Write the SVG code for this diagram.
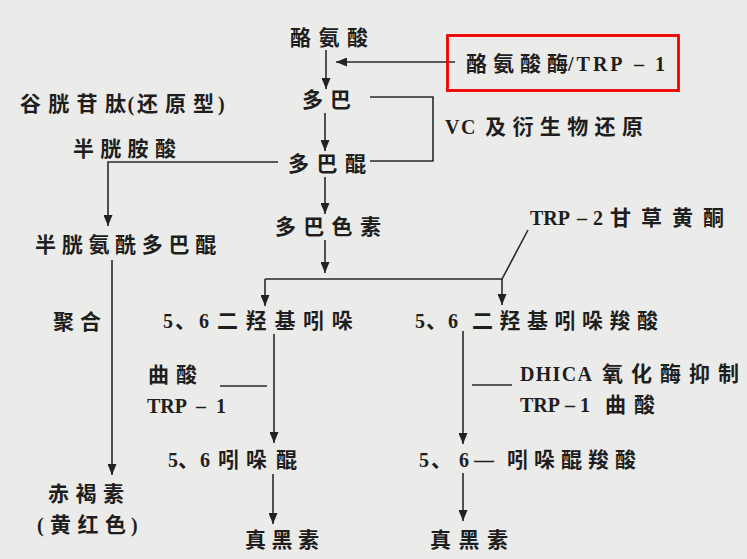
<svg xmlns="http://www.w3.org/2000/svg" width="747" height="559" viewBox="0 0 747 559">
  <style>
    text { font-family: "Liberation Serif", "Noto Sans CJK SC", serif; font-weight: bold; fill: #1e1e1e; }
    .c { font-family: "Noto Sans CJK SC", "Liberation Serif", sans-serif; font-size: 21px; }
    .l { font-family: "Liberation Serif", "Noto Sans CJK SC", serif; font-size: 20px; }
    .ln { fill: none; stroke: #2a2a2a; stroke-width: 1.6; }
    .ar { fill: none; stroke: #2a2a2a; stroke-width: 1.6; marker-end: url(#head); }
  </style>
  <defs>
    <marker id="head" markerUnits="userSpaceOnUse" markerWidth="11" markerHeight="9" refX="11" refY="4.5" orient="auto">
      <path d="M0,0 L11,4.5 L0,9 Z" fill="#222"/>
    </marker>
  </defs>

  <rect width="747" height="559" fill="#ebebe9"/>

  <!-- connectors -->
  <g id="connectors">
    <path class="ar" d="M326,50 V89"/>
    <path class="ar" d="M455,62 H336"/>
    <path class="ar" d="M325,113 V151"/>
    <path class="ln" d="M370,97 H433 V161 H370"/>
    <path class="ar" d="M278,162 H108 V226"/>
    <path class="ar" d="M325,177 V214"/>
    <path class="ar" d="M325,240 V273"/>
    <path class="ln" d="M265,279 H502 L528,230"/>
    <path class="ar" d="M265,279 V306"/>
    <path class="ar" d="M502,279 V305"/>
    <path class="ar" d="M112,260 V475"/>
    <path class="ar" d="M274,334 V443"/>
    <path class="ar" d="M463,331 V444"/>
    <path class="ln" d="M220,386 H267"/>
    <path class="ln" d="M472,385 H512"/>
    <path class="ar" d="M273,474 V524"/>
    <path class="ar" d="M463,473 V521"/>
  </g>

  <!-- nodes -->
  <g id="tyrosine"><text class="c" x="290 318.5 347" y="44.5">酪氨酸</text></g>
  <g id="tyrosinase">
    <rect x="447.5" y="35.5" width="231" height="55" fill="none" stroke="#f00000" stroke-width="2.8"/>
    <text y="70.5"><tspan class="c" x="466 493 520 547">酪氨酸酶</tspan><tspan class="l" x="568" font-size="22" letter-spacing="3">/TRP</tspan><tspan class="l" x="634" font-size="22">–</tspan><tspan class="l" x="655" font-size="22">1</tspan></text>
  </g>
  <g id="dopa"><text class="c" x="302 330" y="107">多巴</text></g>
  <g id="vc-reduction"><text y="133.5"><tspan class="l" x="445" letter-spacing="1.5">VC</tspan><tspan class="c" x="485 512.4 539.8 567.2 594.6 622">及衍生物还原</tspan></text></g>
  <g id="glutathione"><text y="110.5"><tspan class="c" x="20 48.3 76.6 104.9">谷胱苷肽</tspan><tspan class="l" x="127.5" font-size="21">(</tspan><tspan class="c" x="137 165 193">还原型</tspan><tspan class="l" x="218" font-size="21">)</tspan></text></g>
  <g id="cysteine"><text class="c" x="73 100.3 127.6 154.9" y="155.5">半胱胺酸</text></g>
  <g id="dopaquinone"><text class="c" x="288 316.5 345" y="171">多巴醌</text></g>
  <g id="dopachrome"><text class="c" x="275 303.3 331.6 359.9" y="233.5">多巴色素</text></g>
  <g id="cysteinyldopaquinone"><text class="c" x="35 61.7 88.4 115.1 141.8 168.5 195.2" y="251.5">半胱氨酰多巴醌</text></g>
  <g id="trp2"><text y="225"><tspan class="l" x="530" font-size="21">TRP</tspan><tspan class="l" x="577">–</tspan><tspan class="l" x="593">2</tspan><tspan class="c" x="610 641 672 703">甘草黄酮</tspan></text></g>
  <g id="polymerization"><text class="c" x="53 80" y="328.5">聚合</text></g>
  <g id="dhi"><text y="328"><tspan class="l" x="163">5</tspan><tspan class="c" x="175">、</tspan><tspan class="l" x="199">6</tspan><tspan class="c" x="217 245.7 274.4 303.1 331.8">二羟基吲哚</tspan></text></g>
  <g id="dhica"><text y="328"><tspan class="l" x="415">5</tspan><tspan class="c" x="426">、</tspan><tspan class="l" x="448">6</tspan><tspan class="c" x="472 499.5 527 554.5 582 609.5 637">二羟基吲哚羧酸</tspan></text></g>
  <g id="kojic-trp1">
    <text class="c" x="148 176" y="381.5">曲酸</text>
    <text y="413"><tspan class="l" x="147" font-size="19">TRP</tspan><tspan class="l" x="196" font-size="19">–</tspan><tspan class="l" x="216" font-size="19">1</tspan></text>
  </g>
  <g id="dhica-oxidase">
    <text y="380.5"><tspan class="l" x="520" letter-spacing="1.3">DHICA</tspan><tspan class="c" x="602 631 660 689 718">氧化酶抑制</tspan></text>
    <text y="412"><tspan class="l" x="520" font-size="19">TRP</tspan><tspan class="l" x="565" font-size="19">–</tspan><tspan class="l" x="580" font-size="19">1</tspan><tspan class="c" x="605 634">曲酸</tspan></text>
  </g>
  <g id="indolequinone"><text y="467"><tspan class="l" x="168">5</tspan><tspan class="c" x="178">、</tspan><tspan class="l" x="200">6</tspan><tspan class="c" x="218 246 276">吲哚醌</tspan></text></g>
  <g id="indolequinone-carboxylic"><text y="467"><tspan class="l" x="419">5</tspan><tspan class="c" x="431">、</tspan><tspan class="l" x="459">6</tspan><tspan class="l" x="474" font-size="28">—</tspan><tspan class="c" x="507 534 561 588 615">吲哚醌羧酸</tspan></text></g>
  <g id="pheomelanin">
    <text class="c" x="48 75.5 103" y="500.5">赤褐素</text>
    <text y="531.5"><tspan class="l" x="37" font-size="21">(</tspan><tspan class="c" x="50 77.5 105">黄红色</tspan><tspan class="l" x="131" font-size="21">)</tspan></text>
  </g>
  <g id="eumelanin-left"><text class="c" x="245 271.5 298" y="546.5">真黑素</text></g>
  <g id="eumelanin-right"><text class="c" x="430 458.5 487" y="546.5">真黑素</text></g>
</svg>
